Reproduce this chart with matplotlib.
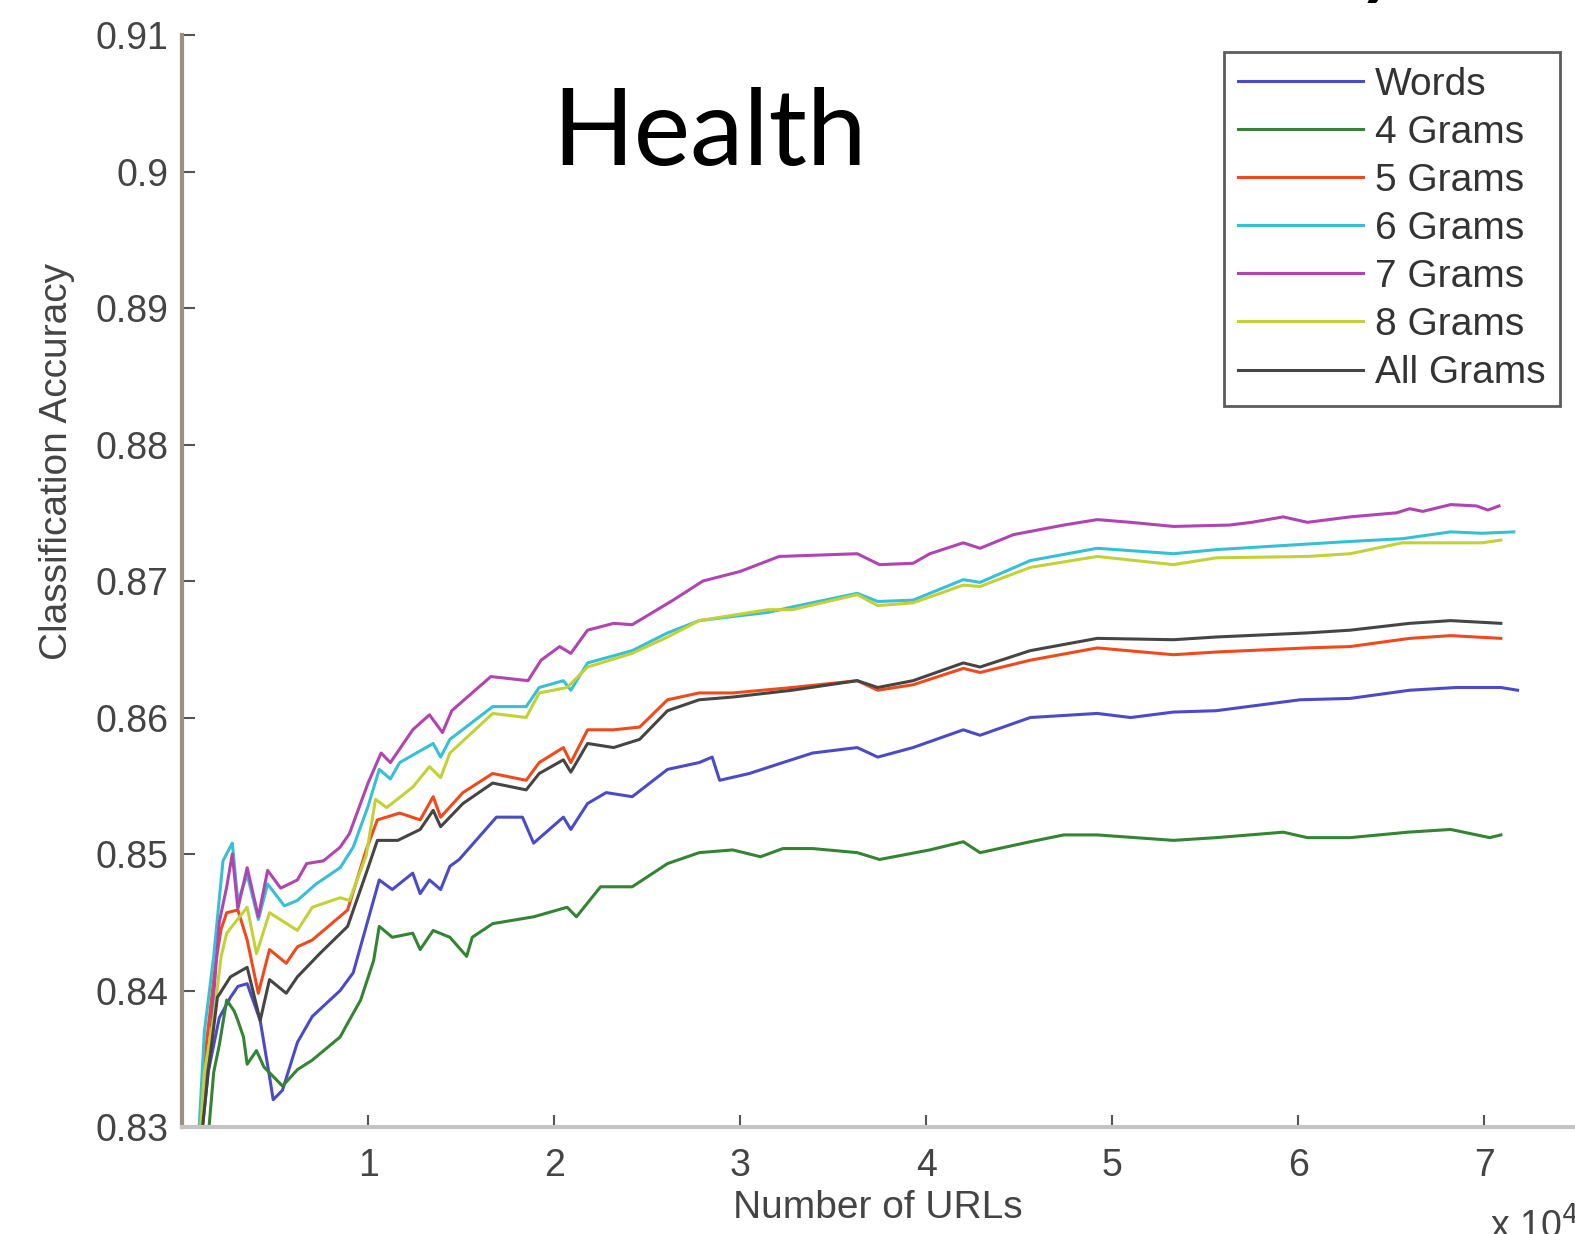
import matplotlib.pyplot as plt

# series (x in units of 10^4 URLs)
words_x = [0.08, 0.14, 0.20, 0.26, 0.30, 0.35, 0.42, 0.47, 0.49, 0.54, 0.62, 0.70, 0.85, 0.92, 0.99, 1.06, 1.13, 1.24, 1.28, 1.33, 1.39, 1.44, 1.49, 1.69, 1.83, 1.89, 2.05, 2.09, 2.18, 2.28, 2.42, 2.61, 2.78, 2.85, 2.89, 3.05, 3.23, 3.39, 3.63, 3.74, 3.93, 4.20, 4.29, 4.56, 4.92, 5.10, 5.33, 5.56, 6.01, 6.28, 6.60, 6.85, 7.09, 7.18]
words_y = [0.826, 0.834, 0.838, 0.8395, 0.8403, 0.8405, 0.8378, 0.8337, 0.8320, 0.8327, 0.8362, 0.8381, 0.8400, 0.8413, 0.8447, 0.8481, 0.8474, 0.8486, 0.8471, 0.8481, 0.8474, 0.8491, 0.8496, 0.8527, 0.8527, 0.8508, 0.8527, 0.8518, 0.8537, 0.8545, 0.8542, 0.8562, 0.8567, 0.8571, 0.8554, 0.8559, 0.8567, 0.8574, 0.8578, 0.8571, 0.8578, 0.8591, 0.8587, 0.8600, 0.8603, 0.8600, 0.8604, 0.8605, 0.8613, 0.8614, 0.8620, 0.8622, 0.8622, 0.8620]

g4_x = [0.12, 0.17, 0.20, 0.24, 0.28, 0.30, 0.33, 0.35, 0.40, 0.44, 0.49, 0.54, 0.62, 0.70, 0.85, 0.89, 0.96, 1.03, 1.06, 1.13, 1.24, 1.28, 1.35, 1.44, 1.53, 1.56, 1.67, 1.89, 2.07, 2.12, 2.25, 2.42, 2.61, 2.78, 2.96, 3.11, 3.23, 3.39, 3.63, 3.75, 4.02, 4.20, 4.29, 4.56, 4.74, 4.92, 5.33, 5.56, 5.92, 6.05, 6.28, 6.59, 6.82, 7.03, 7.09]
g4_y = [0.826, 0.834, 0.836, 0.8393, 0.8385, 0.8378, 0.8366, 0.8346, 0.8356, 0.8344, 0.8337, 0.8330, 0.8342, 0.8349, 0.8366, 0.8376, 0.8393, 0.8422, 0.8447, 0.8439, 0.8442, 0.8430, 0.8444, 0.8439, 0.8425, 0.8439, 0.8449, 0.8454, 0.8461, 0.8454, 0.8476, 0.8476, 0.8493, 0.8501, 0.8503, 0.8498, 0.8504, 0.8504, 0.8501, 0.8496, 0.8503, 0.8509, 0.8501, 0.8509, 0.8514, 0.8514, 0.8510, 0.8512, 0.8516, 0.8512, 0.8512, 0.8516, 0.8518, 0.8512, 0.8514]

g5_x = [0.08, 0.13, 0.18, 0.21, 0.24, 0.30, 0.35, 0.41, 0.47, 0.56, 0.62, 0.70, 0.89, 0.99, 1.05, 1.17, 1.28, 1.35, 1.39, 1.51, 1.67, 1.85, 1.92, 2.05, 2.09, 2.18, 2.32, 2.46, 2.61, 2.78, 2.96, 3.28, 3.63, 3.74, 3.93, 4.20, 4.29, 4.56, 4.92, 5.33, 5.56, 6.05, 6.28, 6.60, 6.82, 7.09]
g5_y = [0.826, 0.836, 0.842, 0.8445, 0.8457, 0.8459, 0.8437, 0.8398, 0.8430, 0.8420, 0.8432, 0.8437, 0.8459, 0.8503, 0.8525, 0.8530, 0.8525, 0.8542, 0.8527, 0.8545, 0.8559, 0.8554, 0.8567, 0.8578, 0.8567, 0.8591, 0.8591, 0.8593, 0.8613, 0.8618, 0.8618, 0.8622, 0.8627, 0.8620, 0.8624, 0.8636, 0.8633, 0.8642, 0.8651, 0.8646, 0.8648, 0.8651, 0.8652, 0.8658, 0.8660, 0.8658]

g6_x = [0.08, 0.12, 0.17, 0.22, 0.27, 0.30, 0.35, 0.41, 0.46, 0.55, 0.62, 0.72, 0.85, 0.92, 1.00, 1.06, 1.12, 1.17, 1.35, 1.39, 1.44, 1.67, 1.85, 1.92, 2.05, 2.09, 2.18, 2.42, 2.61, 2.78, 2.96, 3.15, 3.28, 3.63, 3.74, 3.93, 4.20, 4.29, 4.56, 4.92, 5.33, 5.56, 5.92, 6.28, 6.56, 6.82, 6.99, 7.16]
g6_y = [0.827, 0.837, 0.8425, 0.8495, 0.8508, 0.8465, 0.8485, 0.8452, 0.8478, 0.8462, 0.8466, 0.8478, 0.8490, 0.8505, 0.8535, 0.8562, 0.8555, 0.8567, 0.8581, 0.8571, 0.8584, 0.8608, 0.8608, 0.8622, 0.8627, 0.8620, 0.8640, 0.8649, 0.8662, 0.8671, 0.8674, 0.8677, 0.8681, 0.8691, 0.8685, 0.8686, 0.8701, 0.8699, 0.8715, 0.8724, 0.8720, 0.8723, 0.8726, 0.8729, 0.8731, 0.8736, 0.8735, 0.8736]

g7_x = [0.08, 0.15, 0.20, 0.24, 0.27, 0.30, 0.35, 0.41, 0.46, 0.53, 0.62, 0.67, 0.76, 0.85, 0.90, 1.00, 1.07, 1.12, 1.24, 1.33, 1.40, 1.45, 1.66, 1.86, 1.93, 2.03, 2.09, 2.18, 2.32, 2.42, 2.53, 2.64, 2.80, 3.00, 3.21, 3.63, 3.75, 3.93, 4.02, 4.20, 4.29, 4.47, 4.74, 4.92, 5.10, 5.33, 5.63, 5.75, 5.92, 6.05, 6.28, 6.53, 6.60, 6.67, 6.82, 6.96, 7.02, 7.08]
g7_y = [0.827, 0.836, 0.845, 0.8476, 0.8500, 0.8460, 0.8490, 0.8454, 0.8488, 0.8475, 0.8481, 0.8493, 0.8495, 0.8505, 0.8515, 0.8552, 0.8574, 0.8567, 0.8591, 0.8602, 0.8589, 0.8605, 0.8630, 0.8627, 0.8642, 0.8652, 0.8647, 0.8664, 0.8669, 0.8668, 0.8677, 0.8686, 0.8700, 0.8707, 0.8718, 0.8720, 0.8712, 0.8713, 0.8720, 0.8728, 0.8724, 0.8734, 0.8741, 0.8745, 0.8743, 0.8740, 0.8741, 0.8743, 0.8747, 0.8743, 0.8747, 0.8750, 0.8753, 0.8751, 0.8756, 0.8755, 0.8752, 0.8755]

g8_x = [0.08, 0.12, 0.17, 0.21, 0.24, 0.35, 0.40, 0.47, 0.62, 0.70, 0.85, 0.90, 0.99, 1.04, 1.10, 1.24, 1.33, 1.39, 1.44, 1.67, 1.85, 1.92, 2.07, 2.18, 2.42, 2.61, 2.78, 3.15, 3.28, 3.63, 3.74, 3.93, 4.20, 4.29, 4.56, 4.92, 5.33, 5.56, 6.05, 6.28, 6.56, 6.99, 7.09]
g8_y = [0.826, 0.834, 0.838, 0.8425, 0.8442, 0.8461, 0.8427, 0.8457, 0.8444, 0.8461, 0.8468, 0.8466, 0.8499, 0.8540, 0.8534, 0.8549, 0.8564, 0.8556, 0.8574, 0.8603, 0.8600, 0.8618, 0.8622, 0.8637, 0.8647, 0.8659, 0.8671, 0.8679, 0.8679, 0.8690, 0.8682, 0.8684, 0.8697, 0.8696, 0.8710, 0.8718, 0.8712, 0.8717, 0.8718, 0.8720, 0.8728, 0.8728, 0.8730]

all_x = [0.08, 0.14, 0.19, 0.26, 0.35, 0.42, 0.47, 0.56, 0.62, 0.74, 0.89, 0.99, 1.05, 1.16, 1.28, 1.35, 1.39, 1.51, 1.67, 1.85, 1.92, 2.05, 2.09, 2.18, 2.32, 2.46, 2.61, 2.78, 2.96, 3.28, 3.63, 3.74, 3.93, 4.20, 4.29, 4.56, 4.92, 5.33, 5.56, 6.05, 6.28, 6.60, 6.82, 7.09]
all_y = [0.826, 0.834, 0.8395, 0.8410, 0.8417, 0.8378, 0.8408, 0.8398, 0.8410, 0.8427, 0.8447, 0.8486, 0.8510, 0.8510, 0.8518, 0.8532, 0.8520, 0.8537, 0.8552, 0.8547, 0.8559, 0.8569, 0.8560, 0.8581, 0.8578, 0.8584, 0.8605, 0.8613, 0.8615, 0.8620, 0.8627, 0.8622, 0.8627, 0.8640, 0.8637, 0.8649, 0.8658, 0.8657, 0.8659, 0.8662, 0.8664, 0.8669, 0.8671, 0.8669]

series = [
    ("Words", words_x, words_y, "#4b4bc8"),
    ("4 Grams", g4_x, g4_y, "#338433"),
    ("5 Grams", g5_x, g5_y, "#f04a1c"),
    ("6 Grams", g6_x, g6_y, "#35c0d8"),
    ("7 Grams", g7_x, g7_y, "#b044b0"),
    ("8 Grams", g8_x, g8_y, "#c2d236"),
    ("All Grams", all_x, all_y, "#454545"),
]

y_ticks = [0.83, 0.84, 0.85, 0.86, 0.87, 0.88, 0.89, 0.90, 0.91]
y_tick_labels = ["0.83", "0.84", "0.85", "0.86", "0.87", "0.88", "0.89", "0.9", "0.91"]
x_ticks = [1, 2, 3, 4, 5, 6, 7]

plt.rcParams["font.family"] = ["Liberation Sans", "DejaVu Sans"]

fig = plt.figure(figsize=(15.75, 12.34), dpi=100)
ax = fig.add_axes([0.1156, 0.0867, 0.9448, 0.8849])

for name, xs, ys, col in series:
    ax.plot(xs, ys, color=col, lw=2.2, label=name)

ax.set_xlim(0, 8)
ax.set_ylim(0.83, 0.91)
ax.set_xticks(x_ticks)
ax.set_yticks(y_ticks)
ax.set_yticklabels(y_tick_labels)

for s in ["top", "right"]:
    ax.spines[s].set_visible(False)
ax.spines["left"].set_color("#9a8f86")
ax.spines["left"].set_linewidth(3)
ax.spines["bottom"].set_color("#c4c4c4")
ax.spines["bottom"].set_linewidth(3)

ax.tick_params(axis="both", direction="in", length=9, width=1.5, color="#555555",
               labelsize=27, labelcolor="#444444")
ax.tick_params(axis="y", pad=10)
ax.tick_params(axis="x", pad=15)

fig.text(57 / 1575, 1 - 461 / 1234, "Classification Accuracy", rotation=90,
         ha="center", va="center", fontsize=28, color="#444444")
fig.text(878 / 1575, 1 - 1208 / 1234, "Number of URLs", ha="center", va="center",
         fontsize=28, color="#444444")
fig.text(1490 / 1575, 1 - 1226 / 1234, r"x 10$^4$", ha="left", va="center",
         fontsize=27, color="#444444")

# big overlay text from the slide
fig.text(710 / 1575, 1 - 165 / 1234, "Health", ha="center", va="baseline",
         fontsize=77, family="Lato", color="black")
fig.text(1354 / 1575, 1 + 15 / 1234, "y", ha="left", va="baseline",
         fontsize=76, family="Lato", color="black")

leg = ax.legend(loc="upper right", bbox_to_anchor=(1560 / 1575, 1 - 52 / 1234),
                bbox_transform=fig.transFigure, fontsize=28, frameon=True,
                fancybox=False, borderpad=0.38, labelspacing=0.31,
                handlelength=3.2, handletextpad=0.3, borderaxespad=0)
leg.get_frame().set_edgecolor("#333333")
leg.get_frame().set_linewidth(2)
for t in leg.get_texts():
    t.set_color("#333333")

fig.savefig("out.png", dpi=100)
